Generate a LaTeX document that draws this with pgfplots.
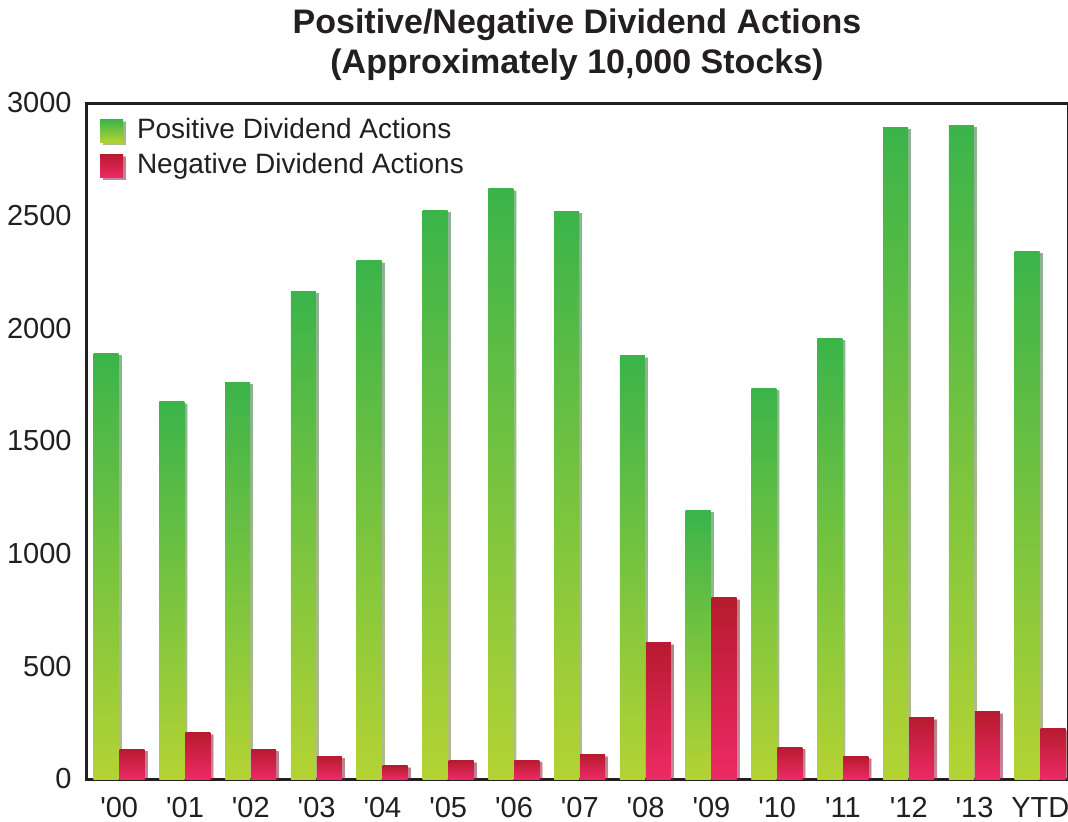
\documentclass[border=0pt]{standalone}
\usepackage{pgfplots}
\pgfplotsset{compat=1.18}
\usepackage{fontspec}
\setmainfont{Liberation Sans}
\usetikzlibrary{shadows}
\definecolor{gtop}{RGB}{59,180,74}
\definecolor{gbot}{RGB}{180,211,52}
\definecolor{rtop}{RGB}{183,27,47}
\definecolor{rbot}{RGB}{237,42,101}
\definecolor{axc}{RGB}{35,31,32}
\pgfplotsset{
  gstyle/.style={ybar, bar shift=-6.6pt, draw=none, top color=gtop, bottom color=gbot,
    drop shadow={shadow xshift=1.5pt, shadow yshift=-1pt, fill=black, opacity=0.3}},
  rstyle/.style={ybar, bar shift=6.4pt, draw=none, top color=rtop, bottom color=rbot,
    drop shadow={shadow xshift=1.5pt, shadow yshift=-1pt, fill=black, opacity=0.3}},
}
\newcommand{\gbar}[2]{\addplot[gstyle, forget plot] coordinates {(#1,#2)};}
\newcommand{\rbar}[2]{\addplot[rstyle, forget plot] coordinates {(#1,#2)};}
\begin{document}
\begin{tikzpicture}
\begin{axis}[
  at={(0,0)}, anchor=south west, scale only axis,
  width=491pt, height=338pt,
  xmin=-0.505, xmax=14.42, ymin=0, ymax=3000,
  ybar, bar width=12.5pt,
  xtick={0,...,14},
  xticklabels={\textquotesingle00,\textquotesingle01,\textquotesingle02,\textquotesingle03,\textquotesingle04,\textquotesingle05,\textquotesingle06,\textquotesingle07,\textquotesingle08,\textquotesingle09,\textquotesingle10,\textquotesingle11,\textquotesingle12,\textquotesingle13,YTD},
  ytick={0,500,...,3000},
  major tick length=0pt,
  axis line style={line width=1.5pt, color=axc},
  tick label style={font=\fontsize{14.5}{16}\selectfont, color=axc},
  /pgf/number format/assume math mode=true,
  /pgf/number format/1000 sep={},
  yticklabel style={inner sep=0pt, xshift=-7pt, anchor=east},
  xticklabel style={inner sep=0pt, yshift=-9pt, anchor=north},
  legend style={draw=none, fill=none, inner sep=0pt, outer sep=0pt,
    at={(0,1)}, anchor=north west, xshift=7pt, yshift=-7.5pt,
    font=\fontsize{14}{16}\selectfont, text=axc, row sep=4.5pt,
    nodes={inner sep=0pt, text height=10pt, text depth=3pt}},
  legend cell align=left,
  legend image code/.code={\fill[#1] (0pt,-5.75pt) rectangle (11.5pt,5.75pt);},
]
% Positive dividend actions
\addplot[gstyle] coordinates {(0,1890)};
\addlegendentry{\hspace{7pt}Positive Dividend Actions}
\gbar{1}{1675}
\gbar{2}{1760}
\gbar{3}{2165}
\gbar{4}{2300}
\gbar{5}{2525}
\gbar{6}{2620}
\gbar{7}{2520}
\gbar{8}{1878}
\gbar{9}{1193}
\gbar{10}{1735}
\gbar{11}{1955}
\gbar{12}{2893}
\gbar{13}{2902}
\gbar{14}{2343}
% Negative dividend actions
\addplot[rstyle] coordinates {(0,133)};
\addlegendentry{\hspace{7pt}Negative Dividend Actions}
\rbar{1}{205}
\rbar{2}{133}
\rbar{3}{102}
\rbar{4}{58}
\rbar{5}{80}
\rbar{6}{84}
\rbar{7}{107}
\rbar{8}{604}
\rbar{9}{804}
\rbar{10}{142}
\rbar{11}{98}
\rbar{12}{271}
\rbar{13}{298}
\rbar{14}{222}
\end{axis}
\node[anchor=base, font=\bfseries\fontsize{17}{20}\selectfont, text=axc] at (245.5pt,372.5pt) {Positive/Negative Dividend Actions};
\node[anchor=base, font=\bfseries\fontsize{17}{20}\selectfont, text=axc] at (245.5pt,352.5pt) {(Approximately 10,000 Stocks)};
\pgfresetboundingbox
\useasboundingbox (-43pt,-21pt) rectangle (491pt,389.5pt);
\end{tikzpicture}
\end{document}
